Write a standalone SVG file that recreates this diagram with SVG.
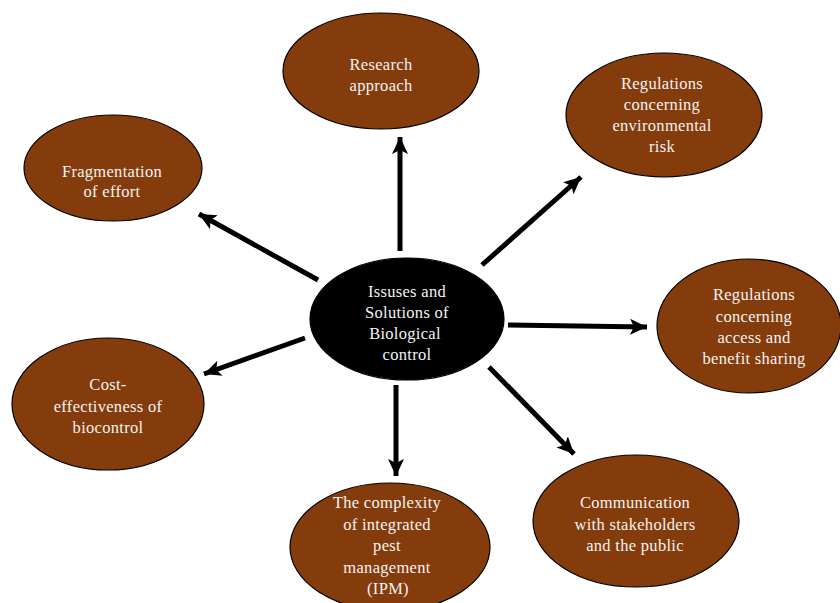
<svg xmlns="http://www.w3.org/2000/svg" width="840" height="603" viewBox="0 0 840 603">
  <style>
    .node { fill: #843C0C; stroke: #000; stroke-width: 1.2; }
    .hub { fill: #000; stroke: #000; stroke-width: 1.2; }
    .label { font-family: "Liberation Serif", "Times New Roman", serif; font-size: 16.5px; letter-spacing: 0.3px; fill: #F2F2F2; text-anchor: middle; }
    .link { stroke: #000; stroke-width: 5; fill: none; marker-end: url(#head); }
  </style>
  <defs>
    <marker id="head" markerUnits="userSpaceOnUse" markerWidth="18" markerHeight="16" refX="17" refY="8" orient="auto">
      <path d="M0,0 L17,8 L0,16 L4,8 Z" fill="#000"/>
    </marker>
  </defs>
  <rect width="840" height="603" fill="#fff"/>

  <g id="connectors">
    <line class="link" x1="400" y1="251" x2="400" y2="137"/>
    <line class="link" x1="482" y1="265" x2="581" y2="177"/>
    <line class="link" x1="318" y1="280" x2="199" y2="214"/>
    <line class="link" x1="508" y1="325" x2="647" y2="327"/>
    <line class="link" x1="489" y1="367" x2="574" y2="454"/>
    <line class="link" x1="305" y1="338" x2="204" y2="374"/>
    <line class="link" x1="396" y1="385" x2="396" y2="476"/>
  </g>

  <g id="hub">
    <ellipse class="hub" cx="407" cy="319" rx="97" ry="61"/>
    <text class="label" x="407" y="297">Issuses and</text>
    <text class="label" x="407" y="318">Solutions of</text>
    <text class="label" x="405" y="339">Biological</text>
    <text class="label" x="407" y="360">control</text>
  </g>

  <g id="research">
    <ellipse class="node" cx="381" cy="71" rx="98" ry="58"/>
    <text class="label" x="381" y="70">Research</text>
    <text class="label" x="381" y="91">approach</text>
  </g>

  <g id="env-risk">
    <ellipse class="node" cx="664" cy="115" rx="98" ry="62"/>
    <text class="label" x="662" y="89">Regulations</text>
    <text class="label" x="662" y="110">concerning</text>
    <text class="label" x="662" y="131">environmental</text>
    <text class="label" x="662" y="152">risk</text>
  </g>

  <g id="fragmentation">
    <ellipse class="node" cx="113" cy="168" rx="89" ry="53"/>
    <text class="label" x="112" y="177">Fragmentation</text>
    <text class="label" x="112" y="197">of effort</text>
  </g>

  <g id="access">
    <ellipse class="node" cx="749" cy="326" rx="92" ry="67"/>
    <text class="label" x="754" y="300">Regulations</text>
    <text class="label" x="754" y="322">concerning</text>
    <text class="label" x="754" y="343">access and</text>
    <text class="label" x="754" y="364">benefit sharing</text>
  </g>

  <g id="cost">
    <ellipse class="node" cx="108" cy="404" rx="96" ry="66"/>
    <text class="label" x="108" y="390">Cost-</text>
    <text class="label" x="108" y="412">effectiveness of</text>
    <text class="label" x="108" y="433">biocontrol</text>
  </g>

  <g id="communication">
    <ellipse class="node" cx="636" cy="521" rx="103" ry="66"/>
    <text class="label" x="635" y="508">Communication</text>
    <text class="label" x="635" y="530">with stakeholders</text>
    <text class="label" x="635" y="551">and the public</text>
  </g>

  <g id="ipm">
    <ellipse class="node" cx="390" cy="547" rx="100" ry="64"/>
    <text class="label" x="387" y="508">The complexity</text>
    <text class="label" x="387" y="530">of integrated</text>
    <text class="label" x="387" y="551">pest</text>
    <text class="label" x="387" y="573">management</text>
    <text class="label" x="388" y="594">(IPM)</text>
  </g>
</svg>
